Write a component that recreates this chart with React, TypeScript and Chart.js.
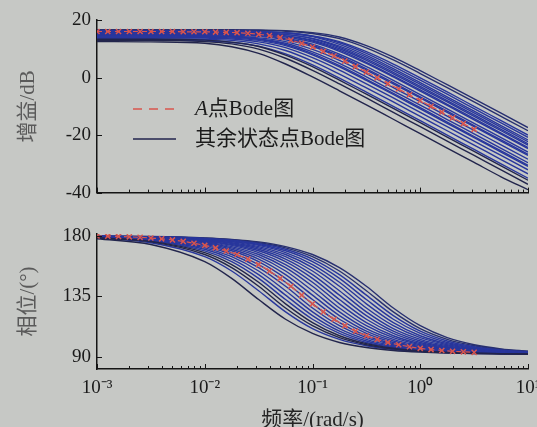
import React, { useEffect, useRef } from "react";
import { Chart, registerables } from "chart.js";

Chart.register(...registerables);

// ---------- data ----------
// log10 of frequency (rad/s) at which the other state-point curves are sampled
const gridExp = [-3, -2.5, -2, -1.75, -1.5, -1.25, -1, -0.75, -0.5, -0.25, 0, 0.25, 0.5, 0.75, 1];

// log10 of frequency for the A-point curve (markers)
const redExp = [
  -3.0, -2.9, -2.8, -2.7, -2.6, -2.5, -2.4, -2.3, -2.2, -2.1, -2.0, -1.9, -1.8, -1.7, -1.6, -1.5, -1.4, -1.3,
  -1.2, -1.1, -1.0, -0.9, -0.8, -0.7, -0.6, -0.5, -0.4, -0.3, -0.2, -0.1, 0.0, 0.1, 0.2, 0.3, 0.4, 0.5,
];
const redGain = [
  16.0, 16.0, 16.0, 16.0, 16.0, 16.0, 16.0, 16.0, 15.9, 15.9, 15.9, 15.8, 15.7, 15.6, 15.4, 15.0, 14.6, 13.9,
  13.0, 11.9, 10.6, 9.1, 7.5, 5.7, 3.8, 1.9, -0.1, -2.1, -4.0, -6.0, -8.0, -10.0, -12.0, -14.0, -16.0, -18.0,
];
const redPhase = [
  180.0, 179.9, 179.7, 179.4, 179.0, 178.5, 177.9, 177.1, 176.0, 174.6, 173.0, 171.2, 168.9, 166.2, 162.8, 158.7,
  153.9, 148.4, 142.5, 135.9, 129.4, 123.4, 117.9, 113.1, 109.0, 105.6, 102.9, 100.6, 98.9, 97.4, 96.2, 95.3,
  94.6, 94.0, 93.6, 93.2,
];

// gain (dB) of the other state points
const g01 = [12.5, 12.4, 11.9, 10.7, 8.4, 4.7, 0.2, -4.6, -9.5, -14.5, -19.5, -24.5, -29.5, -34.5, -39.0];
const g02 = [12.9, 12.9, 12.5, 11.7, 9.9, 6.7, 2.5, -2.2, -7.1, -12.1, -17.1, -22.1, -27.1, -32.1, -37.1];
const g03 = [13.3, 13.3, 13.0, 12.3, 10.8, 7.8, 3.8, -0.9, -5.8, -10.7, -15.7, -20.7, -25.7, -30.7, -35.7];
const g04 = [13.5, 13.5, 13.3, 12.9, 11.7, 9.4, 5.7, 1.2, -3.6, -8.5, -13.5, -18.5, -23.5, -28.5, -33.5];
const g05 = [13.9, 13.9, 13.7, 13.4, 12.4, 10.4, 6.9, 2.6, -2.2, -7.1, -12.1, -17.1, -22.1, -27.1, -32.1];
const g06 = [14.1, 14.1, 14.0, 13.7, 12.9, 11.1, 7.9, 3.7, -1.0, -5.9, -10.9, -15.9, -20.9, -25.9, -30.9];
const g07 = [14.4, 14.4, 14.3, 14.1, 13.4, 11.9, 8.9, 4.9, 0.2, -4.7, -9.6, -14.6, -19.6, -24.6, -29.6];
const g08 = [14.6, 14.6, 14.5, 14.3, 13.8, 12.5, 9.8, 6.0, 1.4, -3.5, -8.4, -13.4, -18.4, -23.4, -28.4];
const g09 = [14.9, 14.9, 14.8, 14.7, 14.3, 13.1, 10.8, 7.1, 2.6, -2.2, -7.1, -12.1, -17.1, -22.1, -27.1];
const g10 = [15.1, 15.1, 15.0, 14.9, 14.6, 13.6, 11.6, 8.1, 3.8, -1.0, -5.9, -10.9, -15.9, -20.9, -25.9];
const g11 = [15.3, 15.3, 15.3, 15.2, 14.9, 14.1, 12.3, 9.1, 4.9, 0.2, -4.7, -9.7, -14.7, -19.7, -24.7];
const g12 = [15.5, 15.5, 15.5, 15.4, 15.2, 14.5, 13.0, 10.0, 6.0, 1.3, -3.6, -8.5, -13.5, -18.5, -23.5];
const g13 = [16.0, 16.0, 16.0, 15.9, 15.7, 15.0, 13.5, 10.5, 6.5, 1.8, -3.1, -8.0, -13.0, -18.0, -23.0];
const g14 = [15.7, 15.7, 15.7, 15.6, 15.4, 14.9, 13.6, 10.9, 7.1, 2.5, -2.4, -7.3, -12.3, -17.3, -22.3];
const g15 = [16.3, 16.3, 16.3, 16.2, 16.0, 15.5, 14.2, 11.5, 7.7, 3.1, -1.8, -6.7, -11.7, -16.7, -21.7];
const g16 = [16.0, 16.0, 16.0, 15.9, 15.8, 15.5, 14.5, 12.5, 9.0, 4.7, -0.1, -5.0, -10.0, -15.0, -20.0];
const g17 = [16.5, 16.5, 16.5, 16.5, 16.4, 16.1, 15.3, 13.5, 10.3, 6.1, 1.4, -3.5, -8.5, -13.5, -18.5];
const g18 = [16.6, 16.6, 16.6, 16.6, 16.5, 16.3, 15.6, 14.1, 11.1, 7.1, 2.4, -2.5, -7.4, -12.4, -17.4];
const g19 = [13.0, 13.0, 12.7, 12.2, 10.9, 8.2, 4.4, -0.2, -5.1, -10.0, -15.0, -20.0, -25.0, -30.0, -35.0];
const g20 = [14.5, 14.5, 14.4, 14.1, 13.3, 11.5, 8.3, 4.1, -0.6, -5.5, -10.5, -15.5, -20.5, -25.5, -30.5];
const g21 = [15.3, 15.3, 15.2, 15.1, 14.7, 13.5, 11.2, 7.5, 3.0, -1.8, -6.7, -11.7, -16.7, -21.7, -26.7];
const g22 = [15.7, 15.7, 15.7, 15.6, 15.3, 14.5, 12.7, 9.5, 5.3, 0.6, -4.3, -9.3, -14.3, -19.3, -24.3];
const g23 = [16.2, 16.2, 16.2, 16.1, 16.0, 15.6, 14.4, 12.1, 8.4, 3.9, -0.9, -5.8, -10.8, -15.8, -20.8];

// phase (deg) of the other state points
const p01 = [178.0, 173.7, 160.9, 148.4, 132.6, 117.9, 107.3, 100.6, 96.8, 94.6, 93.4, 92.7, 92.3, 92.1, 92.0];
const p02 = [178.6, 175.6, 166.2, 156.4, 142.5, 126.3, 113.1, 104.2, 98.9, 95.8, 94.0, 93.1, 92.5, 92.2, 92.0];
const p03 = [178.7, 176.0, 167.6, 158.7, 145.5, 129.4, 115.4, 105.6, 99.7, 96.3, 94.3, 93.2, 92.6, 92.2, 92.1];
const p04 = [179.1, 177.2, 171.2, 164.6, 153.9, 139.2, 123.4, 110.9, 102.9, 98.1, 95.3, 93.8, 92.9, 92.4, 92.2];
const p05 = [179.2, 177.5, 172.1, 166.2, 156.4, 142.5, 126.3, 113.1, 104.2, 98.9, 95.8, 94.0, 93.1, 92.5, 92.2];
const p06 = [179.4, 178.0, 173.7, 169.0, 160.9, 148.4, 132.6, 117.9, 107.3, 100.6, 96.8, 94.6, 93.4, 92.7, 92.3];
const p07 = [179.4, 178.2, 174.4, 170.1, 162.8, 151.2, 135.9, 120.6, 109.0, 101.7, 97.4, 94.9, 93.6, 92.8, 92.4];
const p08 = [179.5, 178.4, 175.0, 171.2, 164.6, 153.9, 139.2, 123.4, 110.9, 102.9, 98.1, 95.3, 93.8, 92.9, 92.4];
const p09 = [179.6, 178.7, 176.0, 173.0, 167.6, 158.7, 145.5, 129.4, 115.4, 105.6, 99.7, 96.3, 94.3, 93.2, 92.6];
const p10 = [179.6, 178.9, 176.5, 173.7, 169.0, 160.9, 148.4, 132.6, 117.9, 107.3, 100.6, 96.8, 94.6, 93.4, 92.7];
const p11 = [179.7, 179.0, 176.8, 174.4, 170.1, 162.8, 151.2, 135.9, 120.6, 109.0, 101.7, 97.4, 94.9, 93.6, 92.8];
const p12 = [179.7, 179.1, 177.2, 175.0, 171.2, 164.6, 153.9, 139.2, 123.4, 110.9, 102.9, 98.1, 95.3, 93.8, 92.9];
const p13 = [179.7, 179.2, 177.5, 175.6, 172.1, 166.2, 156.4, 142.5, 126.3, 113.1, 104.2, 98.9, 95.8, 94.0, 93.1];
const p14 = [179.8, 179.3, 177.8, 176.0, 173.0, 167.6, 158.7, 145.5, 129.4, 115.4, 105.6, 99.7, 96.3, 94.3, 93.2];
const p15 = [179.8, 179.4, 178.0, 176.5, 173.7, 169.0, 160.9, 148.4, 132.6, 117.9, 107.3, 100.6, 96.8, 94.6, 93.4];
const p16 = [179.8, 179.4, 178.2, 176.8, 174.4, 170.1, 162.8, 151.2, 135.9, 120.6, 109.0, 101.7, 97.4, 94.9, 93.6];
const p17 = [179.9, 179.5, 178.4, 177.2, 175.0, 171.2, 164.6, 153.9, 139.2, 123.4, 110.9, 102.9, 98.1, 95.3, 93.8];
const p18 = [179.9, 179.6, 178.6, 177.5, 175.6, 172.1, 166.2, 156.4, 142.5, 126.3, 113.1, 104.2, 98.9, 95.8, 94.0];
const p19 = [178.9, 176.5, 168.9, 160.9, 148.4, 132.6, 117.9, 107.3, 100.6, 96.8, 94.6, 93.4, 92.7, 92.3, 92.1];
const p20 = [179.0, 176.8, 170.1, 162.8, 151.2, 135.9, 120.6, 109.0, 101.7, 97.4, 94.9, 93.6, 92.8, 92.4, 92.1];
const p21 = [179.3, 177.8, 173.0, 167.6, 158.7, 145.5, 129.4, 115.4, 105.6, 99.7, 96.3, 94.3, 93.2, 92.6, 92.2];
const p22 = [179.6, 178.6, 175.6, 172.1, 166.2, 156.4, 142.5, 126.3, 113.1, 104.2, 98.9, 95.8, 94.0, 93.1, 92.5];
const p23 = [178.4, 175.0, 164.6, 153.9, 139.2, 123.4, 110.9, 102.9, 98.1, 95.3, 93.8, 92.9, 92.4, 92.2, 92.0];

const blueGains = [
  g01, g02, g03, g04, g05, g06, g07, g08, g09, g10, g11, g12,
  g13, g14, g15, g16, g17, g18, g19, g20, g21, g22, g23,
];
const bluePhases = [
  p01, p02, p03, p04, p05, p06, p07, p08, p09, p10, p11, p12,
  p13, p14, p15, p16, p17, p18, p19, p20, p21, p22, p23,
];

// ticks
const xTickValues = [0.001, 0.01, 0.1, 1, 10];
const xTickLabels = ["10⁻³", "10⁻²", "10⁻¹", "10⁰", "10¹"];
const minorMultipliers = [1, 2, 3, 4, 5, 6, 7, 8, 9];
const gainTicks = [-40, -20, 0, 20];
const phaseTicks = [90, 135, 180];

// labels
const gainTitle = "增益/dB";
const phaseTitle = "相位/(°)";
const freqTitle = "频率/(rad/s)";
const legendA = ["A", "点Bode图"];
const legendOthers = "其余状态点Bode图";

// ---------- styles ----------
const BG = "#c6c8c5";
const RED = "#d9554d";
const BLUE = "#28369c";
const BLUE_DARK = "#22254c";
const BLUE_TOP = "#283070";
const AXIS = "#151515";
const SERIF = '"Liberation Serif", "Times New Roman", serif';
const TITLE_FONT = '"Liberation Serif", "Noto Sans CJK SC", serif';

const inwardTicks = {
  id: "inwardTicks",
  afterDraw(chart: any) {
    const { ctx, chartArea, scales } = chart;
    const xs = scales.x;
    const ys = scales.y;
    ctx.save();
    ctx.strokeStyle = AXIS;
    ctx.lineWidth = 1;
    ctx.beginPath();
    for (const dec of xTickValues) {
      for (const m of minorMultipliers) {
        const v = m * dec;
        if (v > 10 + 1e-9) continue;
        const px = Math.round(xs.getPixelForValue(v)) + 0.5;
        const len = m === 1 ? 5 : 3;
        ctx.moveTo(px, chartArea.bottom);
        ctx.lineTo(px, chartArea.bottom - len);
      }
    }
    for (const t of ys.ticks) {
      const py = Math.round(ys.getPixelForValue(t.value)) + 0.5;
      ctx.moveTo(chartArea.left, py);
      ctx.lineTo(chartArea.left + 5, py);
    }
    ctx.stroke();
    ctx.restore();
  },
};

const legendPlugin = {
  id: "bodeLegend",
  afterDraw(chart: any) {
    const { ctx, chartArea } = chart;
    const x0 = chartArea.left + 36;
    const x1 = chartArea.left + 79;
    const tx = chartArea.left + 98;
    const y1 = chartArea.top + 89;
    const y2 = chartArea.top + 119;
    ctx.save();
    ctx.lineWidth = 1.5;
    ctx.strokeStyle = RED;
    ctx.setLineDash([9, 7]);
    ctx.beginPath();
    ctx.moveTo(x0, y1);
    ctx.lineTo(x1, y1);
    ctx.stroke();
    ctx.setLineDash([]);
    ctx.strokeStyle = BLUE_DARK;
    ctx.beginPath();
    ctx.moveTo(x0, y2);
    ctx.lineTo(x1, y2);
    ctx.stroke();
    ctx.fillStyle = "#1c1c1c";
    ctx.textBaseline = "middle";
    ctx.textAlign = "left";
    ctx.font = `italic 21px ${SERIF}`;
    ctx.fillText(legendA[0], tx, y1);
    const w = ctx.measureText(legendA[0]).width;
    ctx.font = `21px ${TITLE_FONT}`;
    ctx.fillText(legendA[1], tx + w, y1);
    ctx.fillText(legendOthers, tx, y2);
    ctx.restore();
  },
};

function buildDatasets(kind: "gain" | "phase") {
  const redVals = kind === "gain" ? redGain : redPhase;
  const blues = kind === "gain" ? blueGains : bluePhases;
  const datasets: any[] = [
    {
      label: "A",
      data: redExp.map((e, i) => ({ x: Math.pow(10, e), y: redVals[i] })),
      borderColor: RED,
      borderWidth: 1.2,
      borderDash: [5, 4],
      pointStyle: "crossRot",
      pointRadius: 3.6,
      pointBorderColor: RED,
      pointBorderWidth: 1.5,
      pointBackgroundColor: RED,
      cubicInterpolationMode: "monotone",
      fill: false,
    },
  ];
  blues.forEach((arr, k) => {
    const color = k < 3 ? BLUE_DARK : k === 16 || k === 17 ? BLUE_TOP : BLUE;
    datasets.push({
      label: "other" + k,
      data: gridExp.map((e, i) => ({ x: Math.pow(10, e), y: arr[i] })),
      borderColor: color,
      borderWidth: 1.4,
      pointRadius: 0,
      cubicInterpolationMode: "monotone",
      fill: false,
    });
  });
  return datasets;
}

function makeConfig(kind: "gain" | "phase"): any {
  const isGain = kind === "gain";
  return {
    type: "line",
    data: { datasets: buildDatasets(kind) },
    plugins: isGain ? [inwardTicks, legendPlugin] : [inwardTicks],
    options: {
      responsive: false,
      animation: false,
      devicePixelRatio: 1,
      events: [],
      layout: {
        padding: isGain
          ? { left: 0, right: 32, top: 20, bottom: 8.3 }
          : { left: 0, right: 32, top: 24, bottom: 0 },
      },
      plugins: { legend: { display: false }, tooltip: { enabled: false } },
      scales: {
        x: {
          type: "logarithmic",
          min: 0.001,
          max: 10,
          grid: { display: false, drawTicks: false },
          border: { display: true, color: AXIS, width: 1.5 },
          afterBuildTicks: (s: any) => {
            s.ticks = xTickValues.map((v) => ({ value: v }));
          },
          afterFit: (s: any) => {
            s.height = isGain ? 0 : 71;
          },
          ticks: {
            display: !isGain,
            autoSkip: false,
            maxRotation: 0,
            padding: 8,
            color: "#1a1a1a",
            font: { family: SERIF, size: 19 },
            callback: (_v: any, i: number) => xTickLabels[i],
          },
          title: isGain
            ? { display: false }
            : {
                display: true,
                text: freqTitle,
                color: "#252525",
                font: { family: TITLE_FONT, size: 21 },
                padding: { top: 0, bottom: 7.4 },
              },
        },
        y: {
          type: "linear",
          min: isGain ? -40 : 80.8,
          max: isGain ? 20 : 181.5,
          grid: { display: false, drawTicks: false },
          border: { display: true, color: AXIS, width: 1.5 },
          afterBuildTicks: (s: any) => {
            s.ticks = (isGain ? gainTicks : phaseTicks).map((v) => ({ value: v }));
          },
          afterFit: (s: any) => {
            s.width = 97;
          },
          ticks: {
            padding: 6,
            color: "#1a1a1a",
            font: { family: SERIF, size: 19 },
          },
          title: {
            display: true,
            text: isGain ? gainTitle : phaseTitle,
            color: "#5a5a5a",
            font: { family: TITLE_FONT, size: 21 },
            padding: { top: 15.4, bottom: 0 },
          },
        },
      },
    },
  };
}

export default function App() {
  const topRef = useRef<HTMLCanvasElement | null>(null);
  const botRef = useRef<HTMLCanvasElement | null>(null);

  useEffect(() => {
    const charts: Chart[] = [];
    if (topRef.current) charts.push(new Chart(topRef.current, makeConfig("gain")));
    if (botRef.current) charts.push(new Chart(botRef.current, makeConfig("phase")));
    return () => charts.forEach((c) => c.destroy());
  }, []);

  return (
    <div
      style={{
        position: "fixed",
        left: 0,
        top: 0,
        width: 537,
        height: 427,
        overflow: "hidden",
        background: BG,
      }}
    >
      <canvas
        ref={topRef}
        width={560}
        height={210}
        style={{ position: "absolute", left: 0, top: 0, width: 560, height: 210 }}
      />
      <canvas
        ref={botRef}
        width={560}
        height={230}
        style={{ position: "absolute", left: 0, top: 210, width: 560, height: 230 }}
      />
    </div>
  );
}
